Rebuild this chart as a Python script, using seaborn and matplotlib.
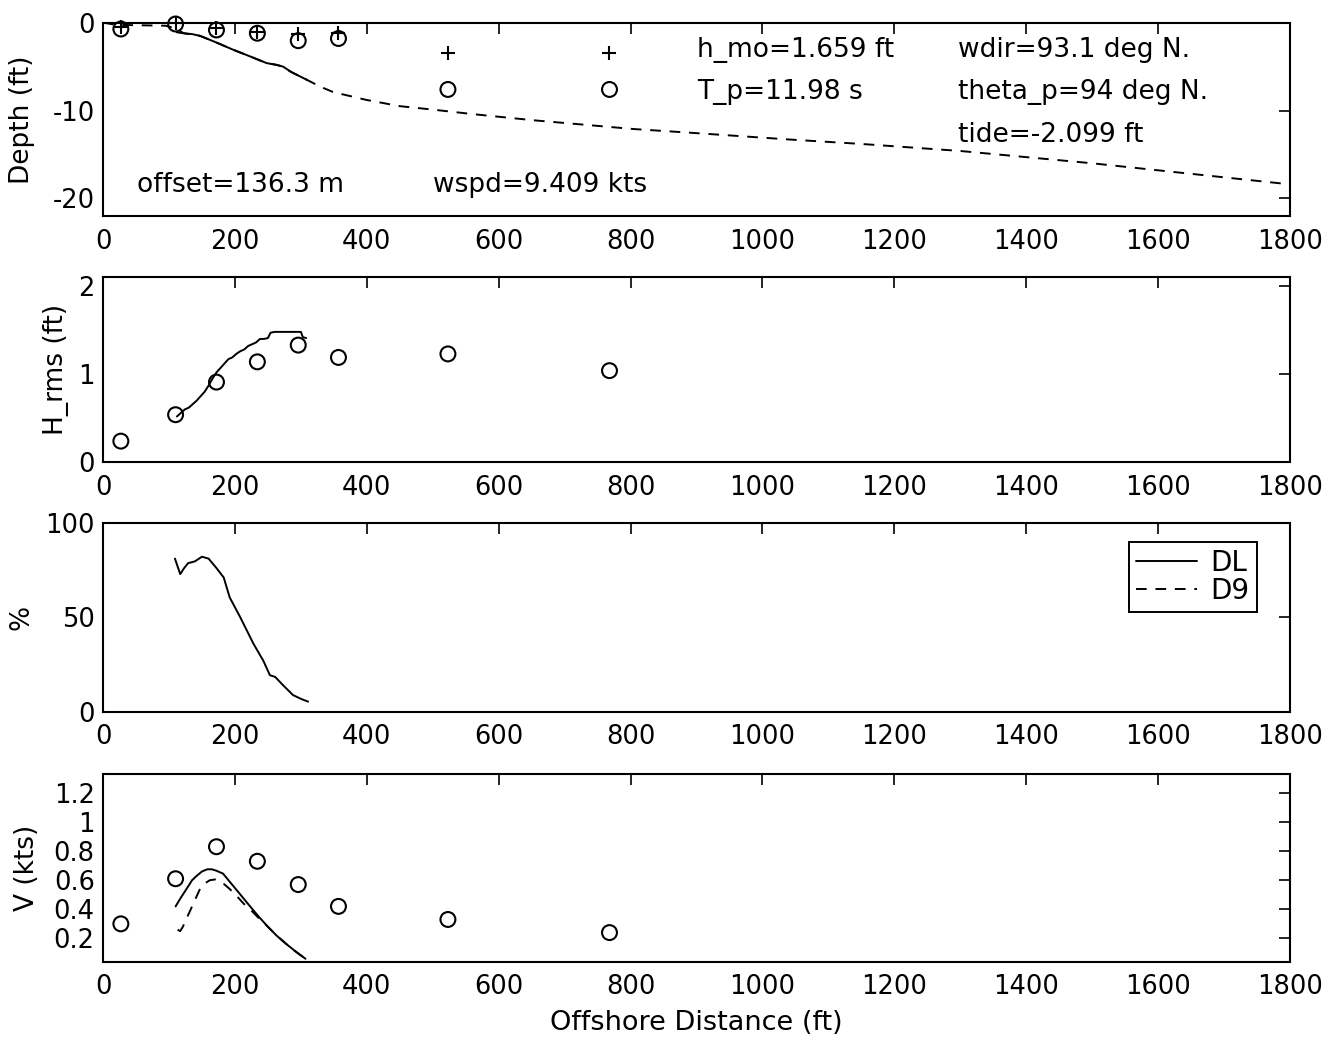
import matplotlib
matplotlib.use("Agg")
import matplotlib.pyplot as plt
import seaborn as sns

# ---------------- data ----------------
# measurement stations (offshore distance, ft)
station_x = [27, 110, 172, 234, 296, 357, 523, 768]

# panel 1: depth
depth_circle_y = [-0.72, -0.15, -0.83, -1.2, -2.05, -1.8, -7.6, -7.6]
depth_plus_y = [-0.45, 0.0, -0.64, -1.1, -1.3, -1.2, -3.5, -3.5]
profile_x = [0, 20, 60, 95, 112, 122, 147, 170, 198, 225, 248, 263, 273, 285, 309,
             330, 349, 400, 450, 501, 560, 652, 804, 886, 1042, 1150, 1300, 1400,
             1500, 1600, 1700, 1800]
profile_y = [0.0, -0.25, -0.3, -0.35, -0.7, -1.2, -1.5, -2.2, -3.1, -3.9, -4.6, -4.8,
             -5.0, -5.6, -6.5, -7.3, -7.9, -8.8, -9.5, -9.9, -10.4, -11.1, -12.1,
             -12.5, -13.3, -13.8, -14.6, -15.3, -16.0, -16.8, -17.6, -18.4]
model_depth_x = [112, 122, 135, 147, 170, 198, 225, 248, 263, 273, 285, 309]
model_depth_y = [-1.1, -1.2, -1.3, -1.5, -2.2, -3.1, -3.9, -4.6, -4.8, -5.0, -5.6, -6.5]

# panel 2: H_rms
hrms_obs = [0.24, 0.54, 0.91, 1.14, 1.33, 1.19, 1.23, 1.04]
hrms_model_x = [112, 118, 124, 130, 136, 142, 148, 154, 160, 166, 172, 178, 184, 190,
                196, 202, 208, 214, 220, 226, 232, 238, 244, 250, 254, 260, 280, 300,
                303, 308]
hrms_model_y = [0.52, 0.56, 0.60, 0.62, 0.66, 0.70, 0.75, 0.80, 0.87, 0.95, 1.02, 1.07,
                1.12, 1.17, 1.19, 1.23, 1.26, 1.28, 1.32, 1.34, 1.36, 1.40, 1.40, 1.41,
                1.47, 1.48, 1.48, 1.48, 1.42, 1.41]

# panel 3: percentages
pct_dl_x = [109, 117, 123, 129, 139, 150, 160, 172, 183, 192, 208, 228, 243, 253, 261,
            273, 288, 300, 311]
pct_dl_y = [81, 72.8, 76, 78.6, 79.5, 82, 81, 76, 71, 60.5, 50, 36, 27, 19.3, 18.4,
            14, 8.8, 6.8, 5.3]
pct_d9_x = []
pct_d9_y = []

# panel 4: longshore current
v_obs = [0.30, 0.61, 0.83, 0.73, 0.57, 0.42, 0.33, 0.24]
v_dl_x = [110, 118, 128, 135, 142, 150, 158, 165, 172, 182, 192, 203, 213, 223, 236,
          250, 263, 277, 292, 307]
v_dl_y = [0.42, 0.48, 0.55, 0.60, 0.63, 0.66, 0.675, 0.675, 0.665, 0.645, 0.59, 0.53,
          0.475, 0.42, 0.35, 0.28, 0.22, 0.165, 0.11, 0.06]
v_d9_x = [113, 117, 121, 128, 135, 142, 148, 155, 162, 170, 175, 183, 192, 203, 213,
          223, 236, 250, 263, 277, 292, 307]
v_d9_y = [0.26, 0.25, 0.28, 0.35, 0.42, 0.49, 0.55, 0.58, 0.60, 0.605, 0.595, 0.575,
          0.54, 0.49, 0.44, 0.40, 0.34, 0.28, 0.22, 0.165, 0.11, 0.06]

x_ticks = [0, 200, 400, 600, 800, 1000, 1200, 1400, 1600, 1800]
info_text = ["h_mo=1.659 ft", "T_p=11.98 s", "wdir=93.1 deg N.", "theta_p=94 deg N.",
             "tide=-2.099 ft", "offset=136.3 m", "wspd=9.409 kts"]

# ---------------- style ----------------
sns.set_style("white")
plt.rcParams["font.family"] = ["DejaVu Sans"]
plt.rcParams["axes.edgecolor"] = "black"
plt.rcParams["text.color"] = "black"
plt.rcParams["axes.labelcolor"] = "black"
plt.rcParams["legend.labelcolor"] = "black"

fig = plt.figure(figsize=(13.28, 10.4), dpi=100)
left, width = 0.0776, 0.8938
ax1 = fig.add_axes([left, 0.7923, width, 0.1859])
ax2 = fig.add_axes([left, 0.5555, width, 0.1779])
ax3 = fig.add_axes([left, 0.3157, width, 0.1817])
ax4 = fig.add_axes([left, 0.0753, width, 0.1805])

LW = 1.4
DASH = (0, (5.5, 4.5))


def circles(ax, x, y):
    sns.scatterplot(x=x, y=y, ax=ax, marker="o", s=115, color="black",
                    facecolors="none", edgecolor="black", linewidth=1.5,
                    clip_on=False, zorder=4)


def pluses(ax, x, y):
    sns.scatterplot(x=x, y=y, ax=ax, marker="+", s=100, color="black",
                    edgecolor=None, linewidth=1.5, clip_on=False, zorder=4)


def line(ax, x, y, dashed=False, label=None):
    sns.lineplot(x=x, y=y, ax=ax, color="black", linewidth=LW, sort=False,
                 estimator=None, label=label, legend=False)
    ln = ax.lines[-1]
    if dashed:
        ln.set_linestyle(DASH)
    return ln


def style(ax, ylim, yticks, ylabels, ylabel, ylab_x):
    ax.set_xlim(0, 1800)
    ax.set_xticks(x_ticks)
    ax.set_xticklabels([str(t) for t in x_ticks])
    ax.set_ylim(*ylim)
    ax.set_yticks(yticks)
    ax.set_yticklabels(ylabels)
    ax.tick_params(direction="in", top=True, right=True, length=8, width=1.2,
                   labelsize=18.5, color="black", labelcolor="black")
    ax.tick_params(axis="x", pad=9)
    ax.tick_params(axis="y", pad=6)
    for s in ax.spines.values():
        s.set_visible(True)
        s.set_color("black")
        s.set_linewidth(1.5)
    ax.set_xlabel("")
    ax.set_ylabel(ylabel, fontsize=19, color="black")
    ax.yaxis.label.set_va("center")
    ax.yaxis.set_label_coords(ylab_x, 0.5)
    ax.grid(False)


# panel 1: depth profile
line(ax1, profile_x, profile_y, dashed=True)
line(ax1, model_depth_x, model_depth_y)
pluses(ax1, station_x, depth_plus_y)
circles(ax1, station_x, depth_circle_y)
style(ax1, (-22, 0), [-20, -10, 0], ["-20", "-10", "0"], "Depth (ft)", -0.068)
info_pos = [(901, -3.1), (901, -7.9), (1297, -3.1), (1297, -7.9), (1297, -12.8),
            (52, -18.5), (500, -18.5)]
for (tx, ty), s in zip(info_pos, info_text):
    ax1.text(tx, ty, s, fontsize=19, ha="left", va="center", color="black")

# panel 2: H_rms
line(ax2, hrms_model_x, hrms_model_y)
circles(ax2, station_x, hrms_obs)
style(ax2, (0, 2.1), [0, 1, 2], ["0", "1", "2"], "H_rms (ft)", -0.040)

# panel 3: percentages
l_dl = line(ax3, pct_dl_x, pct_dl_y, label="DL")
l_d9, = ax3.plot(pct_d9_x, pct_d9_y, color="black", linewidth=LW, linestyle=DASH,
                 label="D9")
style(ax3, (0, 100), [0, 50, 100], ["0", "50", "100"], "%", -0.069)
leg = ax3.legend(handles=[l_dl, l_d9], labels=["DL", "D9"], loc="upper left",
                 bbox_to_anchor=(0.864, 0.898), fontsize=20, frameon=True,
                 fancybox=False, edgecolor="black", framealpha=1, borderpad=0.25,
                 labelspacing=0.0, handlelength=2.2, handletextpad=0.5,
                 borderaxespad=0)
leg.get_frame().set_linewidth(1.4)
for t in leg.get_texts():
    t.set_color("black")

# panel 4: longshore current
line(ax4, v_dl_x, v_dl_y)
line(ax4, v_d9_x, v_d9_y, dashed=True)
circles(ax4, station_x, v_obs)
v_ticks = [0.2, 0.4, 0.6, 0.8, 1.0, 1.2]
style(ax4, (0.04, 1.33), v_ticks, ["%g" % t for t in v_ticks], "V (kts)", -0.064)
ax4.set_xlabel("Offshore Distance (ft)", fontsize=19.5, color="black")
ax4.xaxis.label.set_va("center")
ax4.xaxis.set_label_coords(0.5, -0.327)

fig.savefig("out.png", dpi=100, facecolor="white")
